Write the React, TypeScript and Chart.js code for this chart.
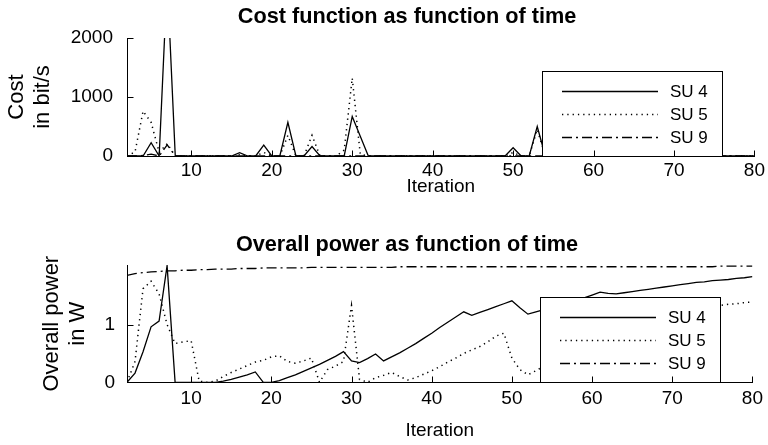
import React, { useEffect, useRef } from "react";
import { Chart, registerables } from "chart.js";

Chart.register(...registerables);

// ---------- data ----------
const iterations: number[] = Array.from({ length: 79 }, (_, i) => i + 2); // 2..80
const xTickValues = [10, 20, 30, 40, 50, 60, 70, 80];
const costTickValues = [0, 1000, 2000];
const powerTickValues = [0, 1];
const seriesLabels = ["SU 4", "SU 5", "SU 9"];

// Cost in bit/s, iterations 2..80
const costSU4 = [
  0, 0, 0, 225, 0, 3000, 0, 0, 0, 0,
  0, 0, 0, 0, 55, 0, 0, 185, 0, 0,
  570, 0, 0, 160, 0, 0, 0, 0, 670, 335,
  0, 0, 0, 0, 0, 0, 0, 0, 0, 0,
  0, 0, 0, 0, 0, 0, 0, 0, 140, 0,
  0, 500, 0, 0, 0, 0, 0, 0, 0, 0,
  0, 0, 0, 0, 0, 0, 0, 0, 0, 0,
  0, 0, 0, 0, 0, 0, 0, 0, 0,
];
const costSU5 = [
  0, 70, 760, 570, 60, 210, 0, 0, 0, 0,
  0, 0, 0, 0, 20, 0, 0, 60, 0, 0,
  350, 0, 0, 350, 0, 0, 0, 100, 1320, 30,
  0, 0, 0, 0, 0, 0, 0, 0, 0, 0,
  0, 0, 0, 0, 0, 0, 0, 0, 60, 0,
  0, 450, 0, 0, 0, 0, 0, 0, 30, 0,
  0, 0, 0, 0, 0, 0, 0, 0, 0, 0,
  0, 0, 0, 0, 0, 0, 0, 0, 0,
];
const costSU9 = [
  0, 0, 10, 30, 0, 190, 0, 0, 0, 0,
  0, 0, 0, 0, 0, 0, 0, 0, 0, 0,
  0, 0, 0, 0, 0, 0, 0, 0, 0, 0,
  0, 0, 0, 0, 0, 0, 0, 0, 0, 0,
  0, 0, 0, 0, 0, 0, 0, 0, 0, 0,
  0, 0, 0, 0, 0, 0, 0, 0, 0, 0,
  0, 0, 0, 0, 0, 0, 0, 0, 0, 0,
  0, 0, 0, 0, 0, 0, 0, 0, 0,
];

// Overall power in W, iterations 2..80
const powerSU4 = [
  0, 0.16, 0.53, 0.96, 1.06, 2.02, 0, 0, 0, 0,
  0, 0, 0.02, 0.05, 0.09, 0.13, 0.18, 0, 0, 0.03,
  0.08, 0.13, 0.19, 0.25, 0.31, 0.38, 0.45, 0.53, 0.37, 0.34,
  0.41, 0.49, 0.37, 0.44, 0.51, 0.59, 0.67, 0.76, 0.85, 0.95,
  1.04, 1.13, 1.22, 1.16, 1.21, 1.26, 1.31, 1.36, 1.41, 1.29,
  1.18, 1.22, 1.26, 1.3, 1.34, 1.38, 1.42, 1.46, 1.51, 1.56,
  1.54, 1.53, 1.55, 1.57, 1.59, 1.61, 1.63, 1.65, 1.67, 1.69,
  1.71, 1.73, 1.74, 1.76, 1.77, 1.78, 1.8, 1.81, 1.83,
];
const powerSU5 = [
  0, 0.36, 1.62, 1.75, 1.53, 1.0, 0.67, 0.7, 0.72, 0.02,
  0, 0.02, 0.1, 0.17, 0.23, 0.29, 0.35, 0.38, 0.44, 0.46,
  0.36, 0.33, 0.37, 0.42, 0, 0.22, 0.28, 0.36, 1.33, 0.05,
  0, 0.08, 0.12, 0.17, 0.1, 0.04, 0.08, 0.14, 0.2, 0.27,
  0.35, 0.42, 0.5, 0.56, 0.62, 0.7, 0.8, 0.85, 0.42, 0.22,
  0.13, 0.2, 0.28, 0.35, 0.42, 0.5, 0.58, 0.66, 0.74, 0.8,
  0.86, 0.92, 0.97, 1.02, 1.07, 1.12, 1.16, 1.2, 1.23, 1.26,
  1.28, 1.3, 1.31, 1.32, 1.33, 1.35, 1.36, 1.38, 1.39,
];
const powerSU9 = [
  1.85, 1.88, 1.9, 1.91, 1.92, 1.93, 1.93, 1.94, 1.94, 1.95,
  1.95, 1.96, 1.96, 1.96, 1.97, 1.97, 1.97, 1.98, 1.98, 1.98,
  1.98, 1.98, 1.98, 1.99, 1.99, 1.99, 1.99, 1.99, 1.99, 1.99,
  1.99, 1.99, 1.99, 1.99, 2.0, 2.0, 2.0, 2.0, 2.0, 2.0,
  2.0, 2.0, 2.0, 2.0, 2.0, 2.0, 2.0, 2.0, 2.0, 2.0,
  2.0, 2.0, 2.0, 2.0, 2.0, 2.0, 2.0, 2.0, 2.0, 2.0,
  2.0, 2.0, 2.0, 2.0, 2.0, 2.0, 2.0, 2.0, 2.0, 2.0,
  2.0, 2.0, 2.0, 2.0, 2.01, 2.01, 2.01, 2.01, 2.01,
];

// ---------- styling ----------
const FONT = "'Liberation Sans', Arial, Helvetica, sans-serif";
const lineStyles = [
  { borderDash: [] as number[], borderWidth: 1.3 },
  { borderDash: [1.3, 4], borderWidth: 1.5 },
  { borderDash: [10, 4, 2, 4], borderWidth: 1.3 },
];
const PAD_LEFT = 46; // shifts the centred title like the reference
const AXIS_LEFT = 127;

const innerTicksPlugin = {
  id: "innerTicks",
  afterDraw(chart: any, _args: any, opts: any) {
    const { ctx, chartArea, scales } = chart;
    const xs = scales.x;
    const ys = scales.y;
    ctx.save();
    ctx.strokeStyle = "#000";
    ctx.lineWidth = 1;
    ctx.setLineDash([]);
    const L = Math.round(chartArea.left) + 0.5;
    const B = Math.round(chartArea.bottom) + 0.5;
    const T = Math.round(chartArea.top) + 0.5;
    const R = Math.round(chartArea.right) + 0.5;
    ctx.beginPath();
    ctx.moveTo(L, T);
    ctx.lineTo(L, B);
    ctx.lineTo(R, B);
    ctx.stroke();
    for (const v of xTickValues) {
      const px = Math.round(xs.getPixelForValue(v)) + 0.5;
      ctx.beginPath();
      ctx.moveTo(px, B);
      ctx.lineTo(px, B - 6);
      ctx.stroke();
    }
    for (const v of opts.yTicks as number[]) {
      const py = Math.round(ys.getPixelForValue(v)) + 0.5;
      ctx.beginPath();
      ctx.moveTo(L, py);
      ctx.lineTo(L + 6, py);
      ctx.stroke();
    }
    ctx.restore();
  },
};

const boxLegendPlugin = {
  id: "boxLegend",
  afterDatasetsDraw(chart: any) {
    const { ctx, chartArea } = chart;
    const w = 180;
    const h = 85;
    const right = Math.round(chartArea.right - 32.5);
    const left = right - w;
    const bottom = Math.round(chartArea.bottom);
    const top = bottom - h;
    ctx.save();
    ctx.fillStyle = "#fff";
    ctx.fillRect(left, top, w, h);
    ctx.strokeStyle = "#000";
    ctx.lineWidth = 1;
    ctx.setLineDash([]);
    ctx.strokeRect(left + 0.5, top + 0.5, w, h);
    chart.data.datasets.forEach((ds: any, i: number) => {
      const y = Math.round(top + 20 + i * 23) + 0.5;
      ctx.strokeStyle = "#000";
      ctx.lineWidth = ds.borderWidth;
      ctx.setLineDash(ds.borderDash || []);
      ctx.beginPath();
      ctx.moveTo(left + 20, y);
      ctx.lineTo(left + 116, y);
      ctx.stroke();
      ctx.setLineDash([]);
      ctx.fillStyle = "#000";
      ctx.font = `17px ${FONT}`;
      ctx.textBaseline = "middle";
      ctx.textAlign = "left";
      ctx.fillText(ds.label, left + 128, y + 1);
    });
    ctx.restore();
  },
};

type PanelProps = {
  height: number;
  title: string;
  titlePadding: { top: number; bottom: number };
  yTitle: string[];
  yTitleCenter: number;
  yTickPad: number;
  yMax: number;
  yTicks: number[];
  series: number[][];
  xHeight: number;
  xTickPad: number;
  xTitlePad: number;
};

function Panel(p: PanelProps) {
  const ref = useRef<HTMLCanvasElement | null>(null);
  useEffect(() => {
    if (!ref.current) return;
    const datasets = seriesLabels.map((label, i) => ({
      label,
      data: iterations.map((x, j) => ({ x, y: p.series[i][j] })),
      borderColor: "#000",
      backgroundColor: "#000",
      borderWidth: lineStyles[i].borderWidth,
      borderDash: lineStyles[i].borderDash,
      pointRadius: 0,
      pointHoverRadius: 0,
      fill: false,
      tension: 0,
    }));
    const yTitleSize = 22;
    const yTitleLH = 1.2;
    const chart = new Chart(ref.current, {
      type: "line",
      data: { datasets },
      plugins: [boxLegendPlugin, innerTicksPlugin],
      options: {
        animation: false,
        responsive: false,
        devicePixelRatio: 1,
        events: [],
        layout: { padding: { left: PAD_LEFT, right: 0, top: 0, bottom: 0 } },
        plugins: {
          legend: { display: false },
          tooltip: { enabled: false },
          title: {
            display: true,
            text: p.title,
            color: "#000",
            font: { family: FONT, size: 21.7, weight: "bold" },
            padding: p.titlePadding,
          },
          innerTicks: { yTicks: p.yTicks },
        } as any,
        scales: {
          x: {
            type: "linear",
            min: 2,
            max: 80,
            grid: { display: false, drawTicks: false },
            border: { display: true, color: "#000", width: 1 },
            afterBuildTicks: (s: any) => {
              s.ticks = xTickValues.map((v) => ({ value: v }));
            },
            afterFit: (s: any) => {
              s.height = p.xHeight;
            },
            ticks: {
              color: "#000",
              font: { family: FONT, size: 19 },
              padding: p.xTickPad,
              maxRotation: 0,
              autoSkip: false,
              callback: (v: any) => String(v),
            },
            title: {
              display: true,
              text: "Iteration",
              color: "#000",
              font: { family: FONT, size: 19 },
              padding: { top: 0, bottom: p.xTitlePad },
            },
          },
          y: {
            type: "linear",
            min: 0,
            max: p.yMax,
            grid: { display: false, drawTicks: false },
            border: { display: true, color: "#000", width: 1 },
            afterBuildTicks: (s: any) => {
              s.ticks = p.yTicks.map((v) => ({ value: v }));
            },
            afterFit: (s: any) => {
              s.width = AXIS_LEFT - PAD_LEFT;
            },
            ticks: {
              color: "#000",
              font: { family: FONT, size: 19 },
              padding: p.yTickPad,
              callback: (v: any) => String(v),
            },
            title: {
              display: true,
              text: p.yTitle,
              color: "#000",
              font: { family: FONT, size: yTitleSize, lineHeight: yTitleLH },
              padding: {
                top: p.yTitleCenter - PAD_LEFT - (yTitleSize * yTitleLH) / 2,
                bottom: 0,
              },
            },
          },
        },
      } as any,
    });
    return () => chart.destroy();
  }, []);
  return (
    <canvas
      ref={ref}
      width={768}
      height={p.height}
      style={{ display: "block", width: 768, height: p.height }}
    />
  );
}

export default function App() {
  return (
    <div
      style={{
        position: "absolute",
        left: 0,
        top: 0,
        width: 768,
        height: 445,
        background: "#fff",
      }}
    >
      <Panel
        height={222}
        title="Cost function as function of time"
        titlePadding={{ top: 4, bottom: 8 }}
        yTitle={["Cost", "in bit/s"]}
        yTitleCenter={17}
        yTickPad={14}
        yMax={2000}
        yTicks={costTickValues}
        series={[costSU4, costSU5, costSU9]}
        xHeight={66}
        xTickPad={3}
        xTitlePad={24}
      />
      <Panel
        height={223}
        title="Overall power as function of time"
        titlePadding={{ top: 10, bottom: 7 }}
        yTitle={["Overall power", "in W"]}
        yTitleCenter={52}
        yTickPad={12}
        yMax={2.03}
        yTicks={powerTickValues}
        series={[powerSU4, powerSU5, powerSU9]}
        xHeight={62.7}
        xTickPad={5}
        xTitlePad={3}
      />
    </div>
  );
}
